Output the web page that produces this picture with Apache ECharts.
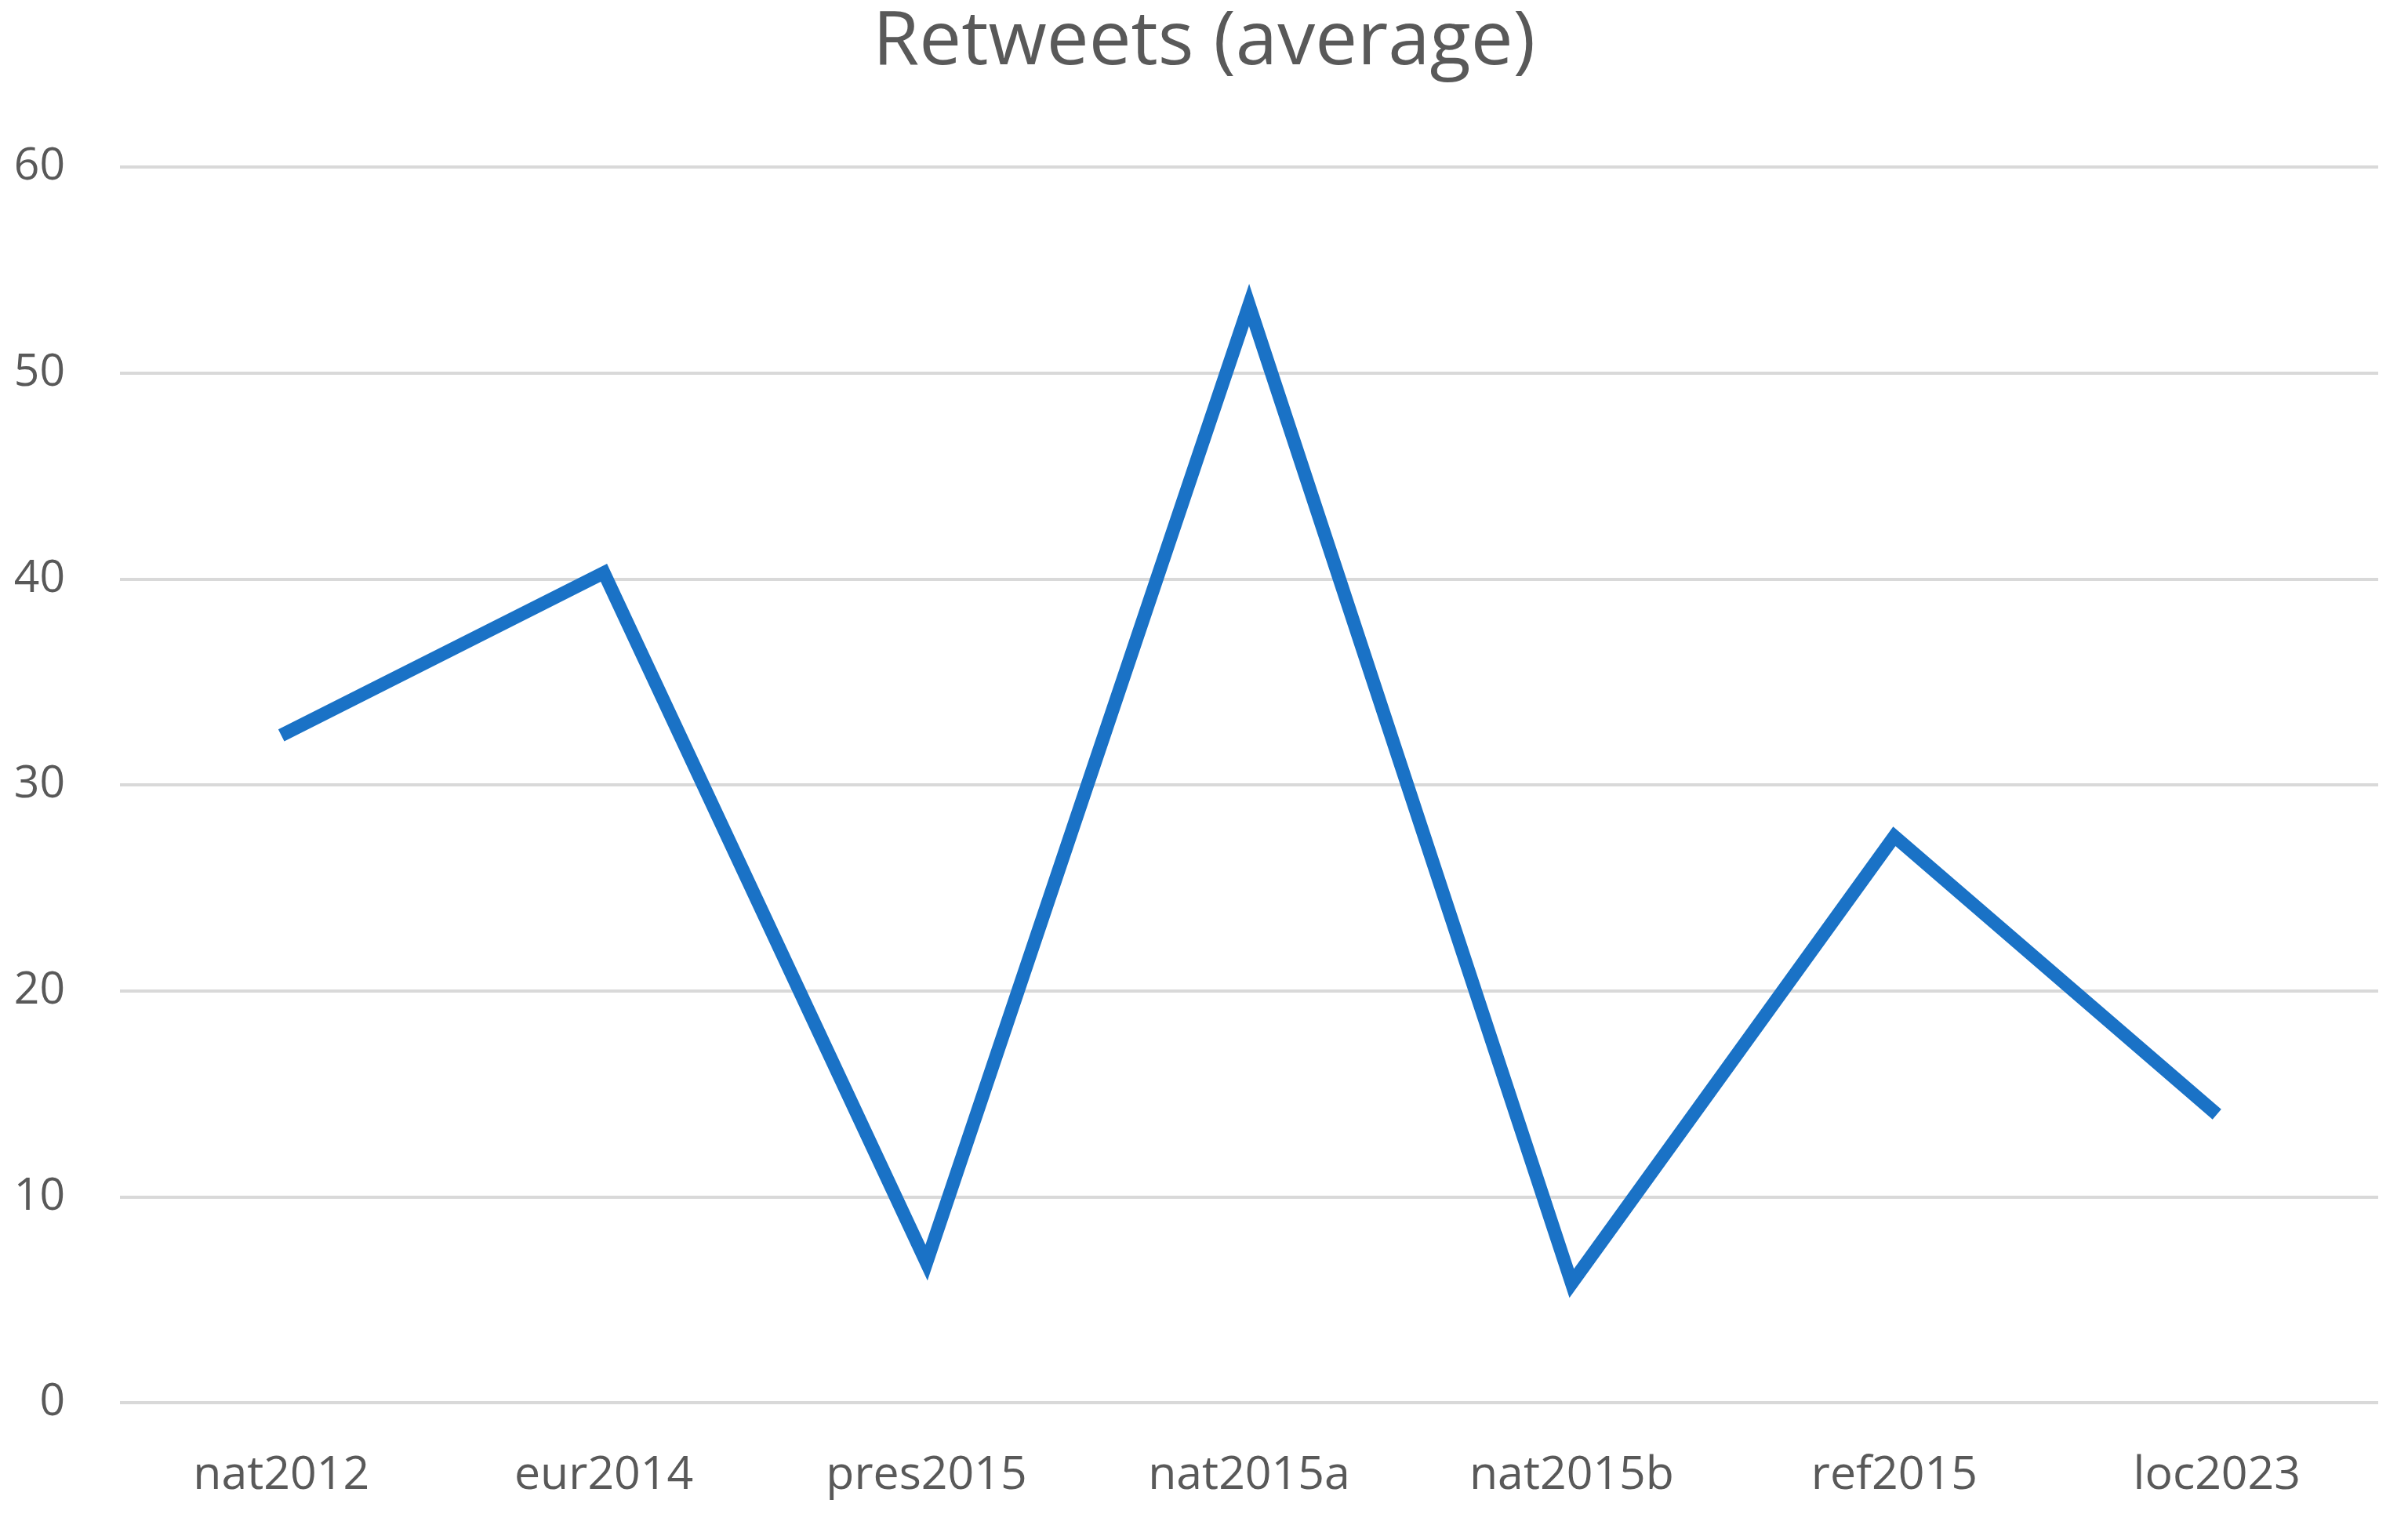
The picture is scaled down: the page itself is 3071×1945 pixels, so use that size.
<!DOCTYPE html>
<html>
<head>
<meta charset="utf-8">
<script src="https://cdn.jsdelivr.net/npm/echarts@6/dist/echarts.min.js"></script>
<style>
  html, body { margin: 0; padding: 0; background: #fff; }
  #main { width: 3071px; height: 1945px; }
</style>
</head>
<body>
<div id="main"></div>
<script>
// election campaigns
var categories = ['nat2012', 'eur2014', 'pres2015', 'nat2015a', 'nat2015b', 'ref2015', 'loc2023'];
// average retweets
var retweets = [32.4, 40.3, 6.8, 53.3, 5.8, 27.5, 14.0];

var chart = echarts.init(document.getElementById('main'));
chart.setOption({
  animation: false,
  title: {
    text: 'Retweets (average)',
    left: 'center',
    top: 2,
    textStyle: {
      color: '#595959',
      fontFamily: 'Open Sans',
      fontWeight: 'normal',
      fontSize: 96
    }
  },
  grid: {
    left: 153,
    right: 38,
    top: 213,
    bottom: 156
  },
  xAxis: {
    type: 'category',
    data: categories,
    boundaryGap: true,
    axisLine: { show: false },
    axisTick: { show: false },
    axisLabel: {
      color: '#595959',
      fontFamily: 'Open Sans',
      fontSize: 59,
      margin: 64
    }
  },
  yAxis: {
    type: 'value',
    min: 0,
    max: 60,
    interval: 10,
    axisLine: { show: false },
    axisTick: { show: false },
    axisLabel: {
      color: '#595959',
      fontFamily: 'Open Sans',
      fontSize: 57,
      margin: 70
    },
    splitLine: { lineStyle: { color: '#d9d9d9', width: 4 } }
  },
  series: [{
    name: 'Retweets',
    type: 'line',
    data: retweets,
    symbol: 'none',
    lineStyle: { color: '#1a72c6', width: 17, cap: 'butt', join: 'miter' }
  }]
});
</script>
</body>
</html>
